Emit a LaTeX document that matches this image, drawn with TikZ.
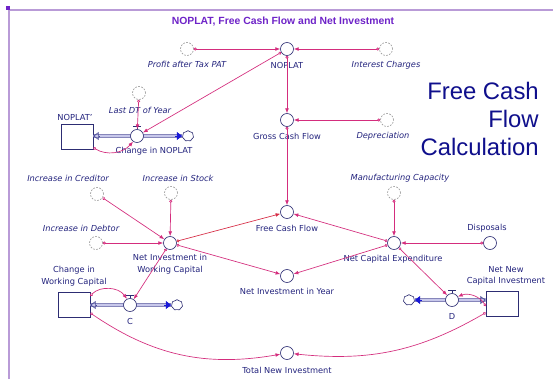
\documentclass[tikz,border=0pt]{standalone}
\usepackage{fontspec}
\setmainfont{DejaVu Sans}
\newfontfamily\arialfont{Liberation Sans}
\usetikzlibrary{arrows.meta, shapes.symbols, positioning}

\definecolor{sdtext}{RGB}{35,35,125}
\definecolor{sdnode}{RGB}{45,45,115}
\definecolor{sdpink}{RGB}{212,45,125}
\definecolor{sdred}{RGB}{215,45,70}
\definecolor{sdpipe}{RGB}{70,70,150}
\definecolor{sdpipein}{RGB}{200,200,235}
\definecolor{sdtip}{RGB}{25,25,215}
\definecolor{sdframe}{RGB}{185,155,215}
\definecolor{sdtitle}{RGB}{110,35,200}
\definecolor{sdbig}{RGB}{15,15,140}

\tikzset{
  conv/.style={circle, draw=sdnode, fill=white, minimum size=9.75pt, inner sep=0pt, line width=0.5pt},
  ghost/.style={circle, draw=gray!80, fill=white, dash pattern=on 1.3pt off 1pt, minimum size=9.75pt, inner sep=0pt, line width=0.45pt},
  stock/.style={rectangle, draw=sdnode, fill=white, minimum width=24pt, minimum height=18.5pt, inner sep=0pt, line width=0.5pt},
  cloudy/.style={cloud, cloud puffs=7, cloud puff arc=110, aspect=1.1, draw=sdnode, fill=white, minimum width=8.5pt, minimum height=8pt, inner sep=0pt, line width=0.45pt},
  lbl/.style={text=sdtext, font=\fontsize{6.2}{8.6}\selectfont, inner sep=0pt, align=center},
  ilbl/.style={lbl, font=\fontsize{6.2}{8.6}\selectfont\itshape},
  conn/.style={draw=sdpink, line width=0.5pt, arrows={Circle[open, length=2.2pt, width=2.2pt]-Latex[length=3.6pt, width=2.8pt]}},
  pipe/.style={draw=sdpipe, double=sdpipein, line width=0.6pt, double distance=1.4pt},
  pipein/.style={draw=sdpipe, line width=0.5pt, -{Triangle[open, length=4pt, width=6pt]}},
  pipeout/.style={draw=sdtip, line width=0.5pt, -{Triangle[length=4pt, width=6pt]}},
  valvebar/.style={draw=sdnode, line width=0.6pt},
}

\begin{document}
\begin{tikzpicture}[x=0.75pt, y=-0.75pt]
\path[use as bounding box, fill=white] (0,0) rectangle (553,379);

% frame and title
\draw[sdframe, line width=1.1pt] (9,379) -- (9,10) -- (553,10);
\fill[sdtitle] (5.5,5.5) rectangle (9.5,9.5);
\node[font=\arialfont\bfseries\fontsize{7.8}{9}\selectfont, text=sdtitle, inner sep=0pt] (title) at (283,22) {NOPLAT, Free Cash Flow and Net Investment};
\node[font=\arialfont\fontsize{17.9}{21}\selectfont, text=sdbig, align=right, inner sep=0pt, anchor=north east] (calc) at (539,82) {Free Cash\\Flow\\Calculation};

% NOPLAT part
\node[conv] (noplat) at (287,49) {};
\node[lbl] (noplat-l) at (287,65) {NOPLAT};
\node[ghost] (pat) at (187,49) {};
\node[ilbl] (pat-l) at (187,64) {Profit after Tax PAT};
\node[ghost] (intc) at (386,49) {};
\node[ilbl] (intc-l) at (386,65) {Interest Charges};
\node[conv] (gcf) at (287,120) {};
\node[lbl] (gcf-l) at (287,136) {Gross Cash Flow};
\node[ghost] (dep) at (387,120) {};
\node[ilbl] (dep-l) at (383,136) {Depreciation};
\node[conv] (fcf) at (287,212) {};
\node[lbl] (fcf-l) at (287,228) {Free Cash Flow};

\node[stock] (nopstock) at (77,137) {};
\node[lbl] (nopstock-l) at (75,117) {NOPLAT'};
\node[ghost] (lastdt) at (139,93) {};
\node[ilbl] (lastdt-l) at (140,110) {Last DT of Year};
\node[cloudy] (cloud1) at (188,136) {};

% pipe of Change in NOPLAT
\draw[pipe] (nopstock.east |- cloud1) -- (cloud1);
\node[conv] (cnop) at (137,136) {};
\draw[pipein] ([xshift=4.5pt]nopstock.east |- cnop) -- (nopstock.east |- cnop);
\draw[pipeout] ([xshift=-5pt]cloud1.west) -- (cloud1.west);
\draw[valvebar] (cnop.north) -- ++(0,-2.5) ++(-4,0) -- ++(8,0);
\node[lbl] (cnop-l) at (154,151) {Change in NOPLAT};

% working capital part
\node[ghost] (cred) at (97,194) {};
\node[ilbl] (cred-l) at (68,178) {Increase in Creditor};
\node[ghost] (stockg) at (171,193) {};
\node[ilbl] (stockg-l) at (178,178) {Increase in Stock};
\node[ghost] (debt) at (96,243) {};
\node[ilbl] (debt-l) at (81,228) {Increase in Debtor};
\node[conv] (niwc) at (170,243) {};
\node[lbl] (niwc-l) at (170,264) {Net Investment in\\Working Capital};

\node[stock] (cwc) at (74,305) {};
\node[lbl] (cwc-l) at (74,276) {Change in\\Working Capital};
\node[cloudy] (cloud2) at (177,305) {};
\draw[pipe] (cwc) -- (cloud2);
\node[conv] (cvalve) at (130,305) {};
\draw[pipein] ([xshift=4.5pt]cwc.east) -- (cwc.east);
\draw[pipeout] ([xshift=-5pt]cloud2.west) -- (cloud2.west);
\draw[valvebar] (cvalve.north) -- ++(0,-2.5) ++(-4,0) -- ++(8,0);
\node[lbl] (cvalve-l) at (130,321) {C};

% capital expenditure part
\node[ghost] (mfc) at (394,193) {};
\node[ilbl] (mfc-l) at (400,178) {Manufacturing Capacity};
\node[conv] (nce) at (394,243) {};
\node[lbl] (nce-l) at (393,259) {Net Capital Expenditure};
\node[conv] (disp) at (490,243) {};
\node[lbl] (disp-l) at (487,228) {Disposals};
\node[conv] (niy) at (287,276) {};
\node[lbl] (niy-l) at (287,291) {Net Investment in Year};

\node[stock] (nnci) at (502,304) {};
\node[lbl] (nnci-l) at (506,276) {Net New\\Capital Investment};
\node[cloudy] (cloud3) at (409,300) {};
\draw[pipe] (nnci.west |- cloud3) -- (cloud3);
\node[conv] (dvalve) at (452,300) {};
\draw[pipein] ([xshift=-4.5pt]nnci.west |- dvalve) -- (nnci.west |- dvalve);
\draw[pipeout] ([xshift=5pt]cloud3.east) -- (cloud3.east);
\draw[valvebar] (dvalve.north) -- ++(0,-2.5) ++(-4,0) -- ++(8,0);
\node[lbl] (dvalve-l) at (452,316) {D};

\node[conv] (tni) at (287,353) {};
\node[lbl] (tni-l) at (287,370) {Total New Investment};

% connectors
\draw[conn] (pat) -- (noplat);
\draw[conn] (intc) -- (noplat);
\draw[conn] (noplat) -- (cnop);
\draw[conn] (lastdt) -- (cnop);
\draw[conn] ([yshift=1.5pt]nopstock.south east) to[bend right=40] (cnop);
\draw[conn] (noplat) -- (gcf);
\draw[conn] (dep) -- (gcf);
\draw[conn] (gcf) -- (fcf);
\draw[conn] (cred) -- (niwc);
\draw[conn] (stockg) -- (niwc);
\draw[conn] (debt) -- (niwc);
\draw[conn, draw=sdred] (niwc) -- (fcf);
\draw[conn] (niwc) -- (niy);
\draw[conn] (niwc) -- (cvalve);
\draw[conn] ([yshift=7pt]cwc.east) to[bend left=50] (cvalve);
\draw[conn] ([yshift=-6pt]cwc.east) to[bend right=22] (tni);
\draw[conn] ([yshift=-1.5pt]nnci.west) to[bend right=40] (dvalve);
\draw[conn] ([yshift=-6.5pt]nnci.west) to[bend left=18] (tni);
\draw[conn] (mfc) -- (nce);
\draw[conn] (disp) -- (nce);
\draw[conn] (nce) -- (fcf);
\draw[conn] (nce) -- (niy);
\draw[conn] (nce) -- (dvalve);
\end{tikzpicture}
\end{document}
